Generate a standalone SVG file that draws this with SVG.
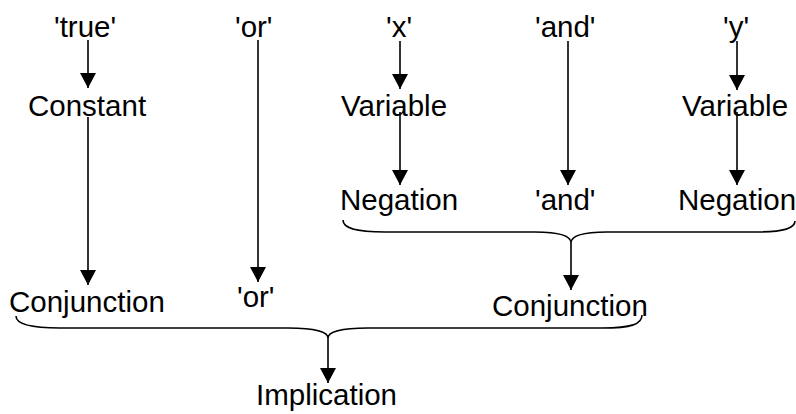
<svg xmlns="http://www.w3.org/2000/svg" width="796" height="414" viewBox="0 0 796 414">
<style>
text{font-family:"Liberation Sans",Arial,sans-serif;font-size:29.5px;fill:#000}
.c{stroke:#000;stroke-width:1.6;fill:none}
</style>
<defs>
<marker id="ah" viewBox="0 0 15 16" refX="15" refY="8" markerWidth="15" markerHeight="16" markerUnits="userSpaceOnUse" orient="auto">
<path d="M0,0 L15,8 L0,16 Z" fill="#000"/>
</marker>
</defs>
<rect width="796" height="414" fill="#fff"/>
<g id="connectors">
<line class="c" x1="88" y1="40" x2="88" y2="88" marker-end="url(#ah)"/>
<line class="c" x1="88" y1="117" x2="88" y2="285" marker-end="url(#ah)"/>
<line class="c" x1="258" y1="40" x2="258" y2="282" marker-end="url(#ah)"/>
<line class="c" x1="400" y1="41" x2="400" y2="89" marker-end="url(#ah)"/>
<line class="c" x1="400" y1="112" x2="400" y2="185" marker-end="url(#ah)"/>
<line class="c" x1="568" y1="41" x2="568" y2="185" marker-end="url(#ah)"/>
<line class="c" x1="737" y1="41" x2="737" y2="90" marker-end="url(#ah)"/>
<line class="c" x1="737" y1="112" x2="737" y2="185" marker-end="url(#ah)"/>
<path class="c" d="M343,220 C343,228 355,232 385,232 L535,232 C560,232 571,236 571,243 C571,236 582,232 607,232 L755,232 C785,232 795,228 795,221"/>
<line class="c" x1="571" y1="243" x2="571" y2="290" marker-end="url(#ah)"/>
<path class="c" d="M16,316 C16,324 30,328 60,328 L288,328 C315,328 328,332 328,338 C328,332 341,328 368,328 L602,328 C632,328 642,324 642,315"/>
<line class="c" x1="328" y1="338" x2="328" y2="383" marker-end="url(#ah)"/>
</g>
<g id="n-true"><text x="54" y="37">'true'</text></g>
<g id="n-or1"><text x="235" y="37">'or'</text></g>
<g id="n-x"><text x="386" y="37">'x'</text></g>
<g id="n-and1"><text x="535" y="37">'and'</text></g>
<g id="n-y"><text x="723" y="37">'y'</text></g>
<g id="n-constant"><text x="28" y="116">Constant</text></g>
<g id="n-var1"><text x="341" y="116">Variable</text></g>
<g id="n-var2"><text x="682" y="116">Variable</text></g>
<g id="n-neg1"><text x="340" y="210">Negation</text></g>
<g id="n-and2"><text x="535" y="210">'and'</text></g>
<g id="n-neg2"><text x="678" y="210">Negation</text></g>
<g id="n-conj1"><text x="9" y="312">Conjunction</text></g>
<g id="n-or2"><text x="237" y="307">'or'</text></g>
<g id="n-conj2"><text x="492" y="316">Conjunction</text></g>
<g id="n-impl"><text x="256" y="405">Implication</text></g>
</svg>
